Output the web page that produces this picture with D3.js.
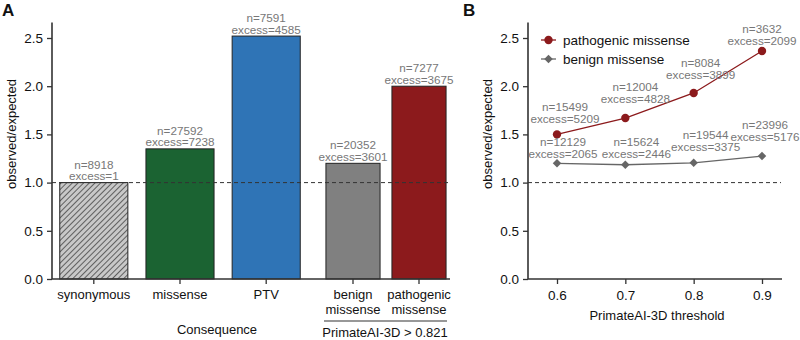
<!DOCTYPE html>
<html>
<head>
<meta charset="utf-8">
<script src="https://d3js.org/d3.v7.min.js"></script>
<style>
  body { margin: 0; background: #fff; }
  svg { font-family: "Liberation Sans", Arial, sans-serif; }
  .tick text { font-size: 13.5px; fill: #111; }
  .tick line, .axisline { stroke: #333; }
  .note { font-size: 11.7px; fill: #777; text-anchor: middle; }
  .lab { font-size: 13px; fill: #111; }
  .panel { font-size: 17px; font-weight: bold; fill: #111; }
</style>
</head>
<body>
<script>
// panel A data
var catsA = ["synonymous", "missense", "PTV"];
var catsA2 = ["benign missense", "pathogenic missense"];
var ratioA = [1.00, 1.35, 2.52, 1.20, 2.00];
var nA = [8918, 27592, 7591, 20352, 7277];
var excessA = [1, 7238, 4585, 3601, 3675];
var colorsA = ["url(#hatch)", "#1b6332", "#2f74b6", "#808080", "#8c1a1c"];

// panel B data
var thresholds = [0.6, 0.7, 0.8, 0.9];
var pathRatio = [1.50, 1.67, 1.93, 2.365];
var pathN = [15499, 12004, 8084, 3632];
var pathExcess = [5209, 4828, 3899, 2099];
var benignRatio = [1.20, 1.185, 1.205, 1.275];
var benignN = [12129, 15624, 19544, 23996];
var benignExcess = [2065, 2446, 3375, 5176];
var yTicks = [0, 0.5, 1.0, 1.5, 2.0, 2.5];

// label nudges for panel B (pixels)
var pathNudge = [[8, -11], [10, -15], [7, -14], [0, -6]];
var benignNudge = [[6, -5], [11, -7], [12, -12], [3, -15]];

var width = 800, height = 340;
var svg = d3.select("body").append("svg")
  .attr("width", width).attr("height", height);

var defs = svg.append("defs");
var pat = defs.append("pattern").attr("id", "hatch")
  .attr("patternUnits", "userSpaceOnUse")
  .attr("width", 4).attr("height", 4)
  .attr("patternTransform", "rotate(45)");
pat.append("rect").attr("width", 4).attr("height", 4).attr("fill", "#c8c8c8");
pat.append("line").attr("x1", 0).attr("y1", 0).attr("x2", 0).attr("y2", 4)
  .attr("stroke", "#444").attr("stroke-width", 1.6);

var y = d3.scaleLinear().domain([0, 2.5]).range([279, 38]);

function yAxis(x0) {
  var g = svg.append("g").attr("transform", "translate(" + x0 + ",0)")
    .call(d3.axisLeft(y).tickValues(yTicks).tickFormat(d3.format(".1f")).tickSize(5).tickPadding(4));
  g.select(".domain").remove();
  g.selectAll(".tick line").attr("stroke-width", 1.3);
  return g;
}

// ---------- panel A ----------
var xA1 = d3.scaleBand().domain(catsA).range([52, 308]).paddingInner(0.21).paddingOuter(0.09);
var xA2 = d3.scaleBand().domain(catsA2).range([320, 452]).paddingInner(0.18).paddingOuter(0.09);
var allA = catsA.concat(catsA2);
function xA(c) { return catsA.indexOf(c) >= 0 ? xA1(c) : xA2(c); }
function bwA(c) { return catsA.indexOf(c) >= 0 ? xA1.bandwidth() : xA2.bandwidth(); }

var barsA = svg.append("g");
barsA.selectAll("rect").data(allA).enter().append("rect")
  .attr("x", function(d) { return xA(d); })
  .attr("y", function(d, i) { return y(ratioA[i]); })
  .attr("width", function(d) { return bwA(d); })
  .attr("height", function(d, i) { return y(0) - y(ratioA[i]); })
  .attr("fill", function(d, i) { return colorsA[i]; })
  .attr("stroke", "#222").attr("stroke-width", 1);

svg.append("line").attr("x1", 52).attr("x2", 450).attr("y1", y(1)).attr("y2", y(1))
  .attr("stroke", "#333").attr("stroke-width", 1).attr("stroke-dasharray", "4,3");

var notesA = svg.append("g");
allA.forEach(function(c, i) {
  var cx = xA(c) + bwA(c) / 2;
  notesA.append("text").attr("class", "note").attr("x", cx).attr("y", y(ratioA[i]) - 14).text("n=" + nA[i]);
  notesA.append("text").attr("class", "note").attr("x", cx).attr("y", y(ratioA[i]) - 2.5).text("excess=" + excessA[i]);
});

yAxis(52);
svg.append("line").attr("class", "axisline").attr("x1", 52).attr("x2", 52)
  .attr("y1", y(0)).attr("y2", y(2.66)).attr("stroke-width", 1.6);
svg.append("line").attr("class", "axisline").attr("x1", 52).attr("x2", 450)
  .attr("y1", y(0)).attr("y2", y(0)).attr("stroke-width", 1.6);

var xlabA = svg.append("g");
allA.forEach(function(c) {
  var cx = xA(c) + bwA(c) / 2;
  xlabA.append("line").attr("class", "axisline").attr("x1", cx).attr("x2", cx)
    .attr("y1", y(0)).attr("y2", y(0) + 5).attr("stroke-width", 1.3);
  var lines = catsA.indexOf(c) >= 0 ? [c] : c.split(" ");
  lines.forEach(function(t, k) {
    xlabA.append("text").attr("class", "lab").attr("text-anchor", "middle")
      .attr("x", cx).attr("y", 299 + k * 15).text(t);
  });
});
svg.append("line").attr("x1", 324).attr("x2", 447).attr("y1", 321).attr("y2", 321)
  .attr("stroke", "#333").attr("stroke-width", 1.2);
svg.append("text").attr("class", "lab").attr("text-anchor", "middle")
  .attr("x", 385).attr("y", 337).text("PrimateAI-3D > 0.821");
svg.append("text").attr("class", "lab").attr("text-anchor", "middle")
  .attr("x", 217).attr("y", 334).text("Consequence");

svg.append("text").attr("class", "lab").attr("text-anchor", "middle")
  .attr("transform", "translate(16,134) rotate(-90)").text("observed/expected");
svg.append("text").attr("class", "panel").attr("x", 2).attr("y", 16).text("A");

// ---------- panel B ----------
var xB = d3.scaleLinear().domain([0.6, 0.9]).range([557, 762]);

svg.append("line").attr("x1", 528).attr("x2", 781).attr("y1", y(1)).attr("y2", y(1))
  .attr("stroke", "#333").attr("stroke-width", 1).attr("stroke-dasharray", "4,3");

yAxis(528);
svg.append("line").attr("class", "axisline").attr("x1", 528).attr("x2", 528)
  .attr("y1", y(0)).attr("y2", y(2.66)).attr("stroke-width", 1.6);
var gxB = svg.append("g").attr("transform", "translate(0," + y(0) + ")")
  .call(d3.axisBottom(xB).tickValues(thresholds).tickFormat(d3.format(".1f")).tickSize(5).tickPadding(6));
gxB.select(".domain").remove();
gxB.selectAll(".tick line").attr("stroke-width", 1.3);
svg.append("line").attr("class", "axisline").attr("x1", 528).attr("x2", 782)
  .attr("y1", y(0)).attr("y2", y(0)).attr("stroke-width", 1.6);

var series = [
  { name: "pathogenic missense", vals: pathRatio, n: pathN, ex: pathExcess, nudge: pathNudge, color: "#8c1a1c", shape: d3.symbolCircle, size: 55, rot: 0 },
  { name: "benign missense", vals: benignRatio, n: benignN, ex: benignExcess, nudge: benignNudge, color: "#666666", shape: d3.symbolSquare, size: 36, rot: 45 }
];

var line = d3.line().x(function(d, i) { return xB(thresholds[i]); }).y(function(d) { return y(d); });

series.forEach(function(s) {
  svg.append("path").datum(s.vals).attr("d", line)
    .attr("fill", "none").attr("stroke", s.color).attr("stroke-width", 1.3);
  svg.append("g").selectAll("path").data(s.vals).enter().append("path")
    .attr("d", d3.symbol().type(s.shape).size(s.size))
    .attr("transform", function(d, i) { return "translate(" + xB(thresholds[i]) + "," + y(d) + ") rotate(" + s.rot + ")"; })
    .attr("fill", s.color);
  s.vals.forEach(function(v, i) {
    var cx = xB(thresholds[i]) + s.nudge[i][0];
    var by = y(v) + s.nudge[i][1];
    svg.append("text").attr("class", "note").attr("x", cx).attr("y", by - 12).text("n=" + s.n[i]);
    svg.append("text").attr("class", "note").attr("x", cx).attr("y", by).text("excess=" + s.ex[i]);
  });
});

// legend
var leg = svg.append("g");
series.forEach(function(s, k) {
  var ly = 40 + k * 19;
  leg.append("line").attr("x1", 541).attr("x2", 556).attr("y1", ly).attr("y2", ly)
    .attr("stroke", s.color).attr("stroke-width", 1.3);
  leg.append("path").attr("d", d3.symbol().type(s.shape).size(s.size))
    .attr("transform", "translate(548.5," + ly + ") rotate(" + s.rot + ")").attr("fill", s.color);
  leg.append("text").attr("class", "lab").style("font-size", "13.5px")
    .attr("x", 563).attr("y", ly + 5).text(s.name);
});

svg.append("text").attr("class", "lab").attr("text-anchor", "middle")
  .attr("x", 657).attr("y", 320).text("PrimateAI-3D threshold");
svg.append("text").attr("class", "lab").attr("text-anchor", "middle")
  .attr("transform", "translate(492,134) rotate(-90)").text("observed/expected");
svg.append("text").attr("class", "panel").attr("x", 463).attr("y", 16).text("B");
</script>
</body>
</html>
